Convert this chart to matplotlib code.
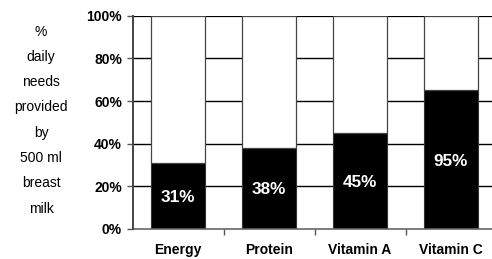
import matplotlib
matplotlib.use("Agg")
import matplotlib.pyplot as plt
from matplotlib.ticker import FixedLocator

categories = ["Energy", "Protein", "Vitamin A", "Vitamin C"]
bar_heights = [31, 38, 45, 65]
bar_labels = ["31%", "38%", "45%", "95%"]
ytick_values = [0, 20, 40, 60, 80, 100]
ytick_labels = ["0%", "20%", "40%", "60%", "80%", "100%"]
side_lines = ["%", "daily", "needs", "provided", "by", "500 ml", "breast", "milk"]

plt.rcParams["font.family"] = ["Liberation Sans", "DejaVu Sans"]

fig = plt.figure(figsize=(4.92, 2.59), dpi=100)
W, H = 492, 259
left, right = 132.5, 496.5
top, bottom = 15.7, 229
ax = fig.add_axes([left / W, 1 - bottom / H, (right - left) / W, (bottom - top) / H])

x = list(range(len(categories)))
width = 54 / 91
tops = [100 - h for h in bar_heights]

for yv in ytick_values[1:]:
    ax.axhline(yv, color="black", lw=1.0 if yv < 100 else 1.6, zorder=1)

ax.bar(x, bar_heights, width=width, color="black", edgecolor="#333333", lw=0.8, zorder=2)
ax.bar(x, tops, bottom=bar_heights, width=width, color="white", edgecolor="#444444", lw=0.9, zorder=2)

for xi, h, lab in zip(x, bar_heights, bar_labels):
    ax.text(xi, h / 2 - 0.7, lab, color="white", fontsize=12.3, fontweight="bold",
            ha="center", va="center", zorder=3)

ax.set_xlim(-0.5, len(categories) - 0.5)
ax.set_ylim(0, 100)
ax.set_yticks(ytick_values)
ax.set_yticklabels(ytick_labels, fontsize=10, fontweight="bold")
ax.set_xticks(x)
ax.set_xticklabels(categories, fontsize=10, fontweight="bold", va="baseline")
ax.tick_params(axis="x", length=0, pad=18)
ax.xaxis.set_minor_locator(FixedLocator([i + 0.5 for i in range(len(categories) - 1)]))
ax.tick_params(axis="x", which="minor", length=4, width=1, color="#555555", direction="out")
ax.tick_params(axis="y", length=4, width=1, color="#555555", pad=3.5)

for s in ["top", "right"]:
    ax.spines[s].set_visible(False)
ax.spines["left"].set_color("#444444")
ax.spines["left"].set_linewidth(1.4)
ax.spines["bottom"].set_color("#666666")
ax.spines["bottom"].set_linewidth(1.2)
ax.spines["left"].set_zorder(4)

ys = [32, 57, 82, 107, 133, 158, 183, 209]
for line, yp in zip(side_lines, ys):
    fig.text(41 / W, 1 - yp / H, line, fontsize=10, ha="center", va="center")

fig.savefig("out.png", dpi=100)
